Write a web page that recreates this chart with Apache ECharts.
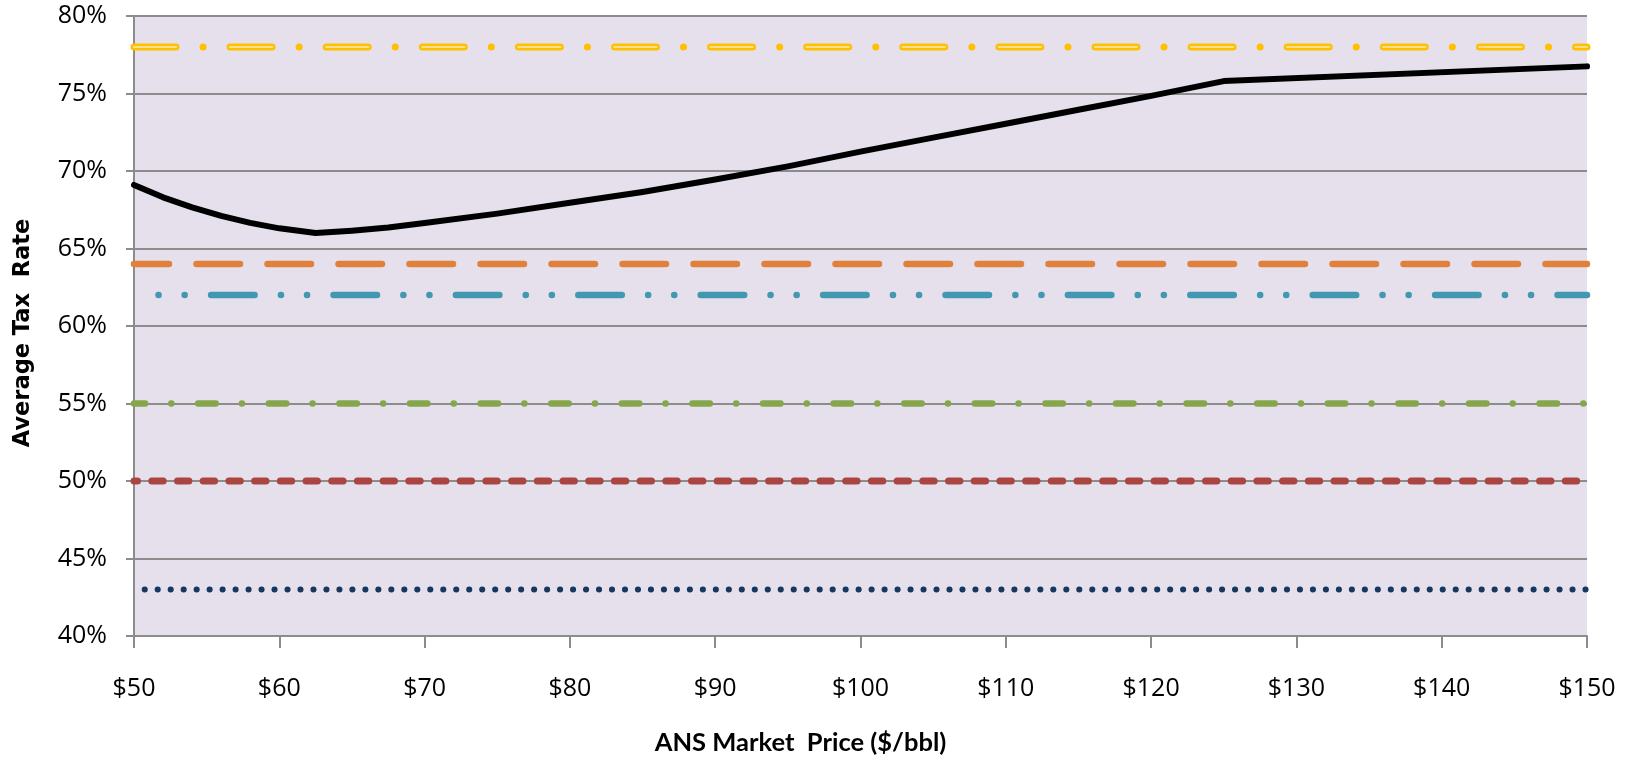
<!DOCTYPE html>
<html>
<head>
<meta charset="utf-8">
<title>Average Tax Rate vs ANS Market Price</title>
<script src="https://cdn.jsdelivr.net/npm/echarts@6/dist/echarts.min.js"></script>
<style>
  html, body { margin: 0; padding: 0; background: #ffffff; }
  #chart { width: 1637px; height: 761px; }
</style>
</head>
<body>
<div id="chart"></div>
<script>
// ANS market price ($/bbl) sample points for the progressive tax curve
const prices = [50, 52, 54, 56, 58, 60, 62.5, 65, 67.5, 70, 75, 80, 85, 90, 95, 100, 105, 110, 115, 120, 125, 150];
// Average tax rate (%) at each price above
const avgTaxRate = [69.1, 68.3, 67.65, 67.1, 66.65, 66.3, 66.0, 66.15, 66.35, 66.65, 67.25, 67.95, 68.65, 69.45, 70.3, 71.25, 72.15, 73.05, 73.95, 74.85, 75.8, 76.75];

// Flat-rate regimes (%), constant across the price range
const flatGold = 78;
const flatOrange = 64;
const flatTeal = 62;
const flatGreen = 55;
const flatRed = 50;
const flatNavy = 43;

// Axis ticks
const priceTicks = [50, 60, 70, 80, 90, 100, 110, 120, 130, 140, 150];
const rateTicks = [40, 45, 50, 55, 60, 65, 70, 75, 80];

const xMin = priceTicks[0], xMax = priceTicks[priceTicks.length - 1];
const flat = v => [[xMin, v], [xMax, v]];

const gridGray = '#8c8c8c';
const labelFont = '"Open Sans", "DejaVu Sans", sans-serif';

function flatSeries(value, color, width, dash, offset, z) {
  return {
    type: 'line',
    data: flat(value),
    showSymbol: false,
    symbol: 'none',
    silent: true,
    z: z || 3,
    lineStyle: { color: color, width: width, type: dash, dashOffset: offset, cap: 'round' }
  };
}

const chart = echarts.init(document.getElementById('chart'), null, { renderer: 'canvas' });

chart.setOption({
  animation: false,
  backgroundColor: '#ffffff',
  grid: {
    left: 134, right: 50, top: 16, bottom: 124,
    show: true, backgroundColor: '#E5E0EC', borderWidth: 0
  },
  xAxis: {
    type: 'value',
    min: xMin, max: xMax, interval: 10,
    name: 'ANS Market  Price ($/bbl)',
    nameLocation: 'middle',
    nameGap: 94,
    nameTextStyle: {
      fontFamily: 'Lato, "Open Sans", sans-serif', fontWeight: 'bold', fontSize: 25.5, color: '#000',
      padding: [0, 120, 0, 0]
    },
    axisLine: { show: true, onZero: false, lineStyle: { color: gridGray, width: 2 } },
    axisTick: { show: true, length: 12, lineStyle: { color: gridGray, width: 2 } },
    splitLine: { show: false },
    axisLabel: {
      margin: 40,
      fontFamily: labelFont, fontSize: 25, color: '#000',
      formatter: v => '$' + v
    }
  },
  yAxis: {
    type: 'value',
    min: rateTicks[0], max: rateTicks[rateTicks.length - 1], interval: 5,
    name: 'Average Tax  Rate',
    nameLocation: 'middle',
    nameRotate: 90,
    nameGap: 99,
    nameTextStyle: {
      fontFamily: '"DejaVu Sans", sans-serif', fontWeight: 'bold', fontSize: 22.5, color: '#000',
      padding: [0, 14, 0, 0]
    },
    axisLine: { show: true, lineStyle: { color: gridGray, width: 2 } },
    axisTick: { show: true, length: 8, lineStyle: { color: gridGray, width: 2 } },
    splitLine: { show: true, lineStyle: { color: gridGray, width: 2 } },
    axisLabel: {
      margin: 27,
      fontFamily: labelFont, fontSize: 25, color: '#000',
      formatter: v => v + '%'
    }
  },
  series: [
    // gold double line: outer stroke, then pale core on the dashes only
    flatSeries(flatGold, '#FFC000', 7, [42, 27, 0.1, 27], 0, 3),
    flatSeries(flatGold, '#FBE08C', 2.2, [42, 54.1], 0, 4),
    flatSeries(flatOrange, '#E0803A', 6.5, [43.5, 27.5], 8.5),
    flatSeries(flatTeal, '#4298B0', 6.5, [43.5, 26.3, 0.1, 26, 0.1, 26.4], 45.3),
    flatSeries(flatGreen, '#86A64B', 6.5, [17.5, 26.2, 0.1, 26.8], 6.4),
    flatSeries(flatRed, '#AA4541', 7, [11.4, 14.3], 7.9),
    flatSeries(flatNavy, '#17375E', 6, [0.1, 12.88], 2.3),
    {
      type: 'line',
      data: prices.map((p, i) => [p, avgTaxRate[i]]),
      showSymbol: false,
      symbol: 'none',
      smooth: false,
      silent: true,
      z: 5,
      lineStyle: { color: '#000000', width: 6, cap: 'round', join: 'round' }
    }
  ]
});
</script>
</body>
</html>
